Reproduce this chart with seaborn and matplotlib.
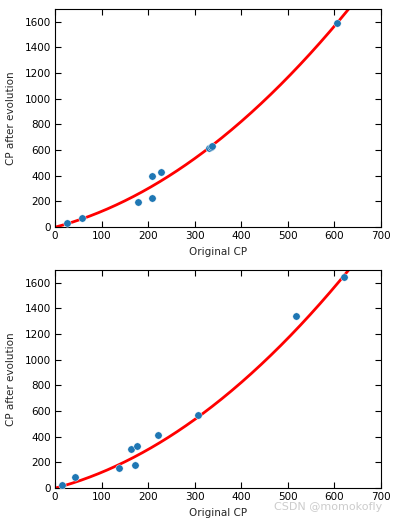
import numpy as np
import pandas as pd
import matplotlib
matplotlib.use("Agg")
import matplotlib.pyplot as plt
import seaborn as sns

# --- datos ---
train_cp = [25, 58, 178, 208, 208, 227, 330, 335, 338, 606]
train_evo = [30, 68, 198, 395, 225, 425, 615, 625, 635, 1590]

test_cp = [15, 42, 137, 163, 171, 177, 221, 306, 517, 620]
test_evo = [20, 82, 152, 302, 180, 325, 415, 570, 1340, 1645]

x_ticks = [0, 100, 200, 300, 400, 500, 600, 700]
y_ticks = [0, 200, 400, 600, 800, 1000, 1200, 1400, 1600]

sns.set_style("ticks")
plt.rcParams["font.family"] = ["DejaVu Sans"]

# --- modelo cuadrático ajustado a los datos de entrenamiento ---
coef = np.polyfit(train_cp, train_evo, 2)
x_grid = np.linspace(0, 700, 300)
df_curve = pd.DataFrame({"x": x_grid, "y": np.polyval(coef, x_grid)})

fig = plt.figure(figsize=(3.96, 5.23), dpi=100)
ax1 = fig.add_axes([0.139, 0.566, 0.823, 0.417])
ax2 = fig.add_axes([0.139, 0.067, 0.823, 0.417])

for ax, xs, ys in [(ax1, train_cp, train_evo), (ax2, test_cp, test_evo)]:
    df = pd.DataFrame({"cp": xs, "evo": ys})
    sns.scatterplot(data=df, x="cp", y="evo", ax=ax, color="#1f77b4",
                    s=28, edgecolor="white", linewidth=0.3, zorder=3)
    sns.lineplot(data=df_curve, x="x", y="y", ax=ax, color="red",
                 linewidth=2, zorder=2)
    ax.set_xlim(0, 700)
    ax.set_ylim(0, 1700)
    ax.set_xticks(x_ticks)
    ax.set_yticks(y_ticks)
    ax.set_xlabel("Original CP", fontsize=7.5, labelpad=4)
    ax.set_ylabel("CP after evolution", fontsize=7.5, labelpad=6)
    ax.tick_params(direction="in", top=True, right=True, length=4,
                   width=0.8, labelsize=7.5, pad=3, colors="black")
    for sp in ax.spines.values():
        sp.set_linewidth(0.8)
        sp.set_color("black")

fig.text(0.965, 0.03, "CSDN @momokofly", ha="right", va="center",
         fontsize=8, color="#cccccc")

plt.savefig("out.png", dpi=100)
